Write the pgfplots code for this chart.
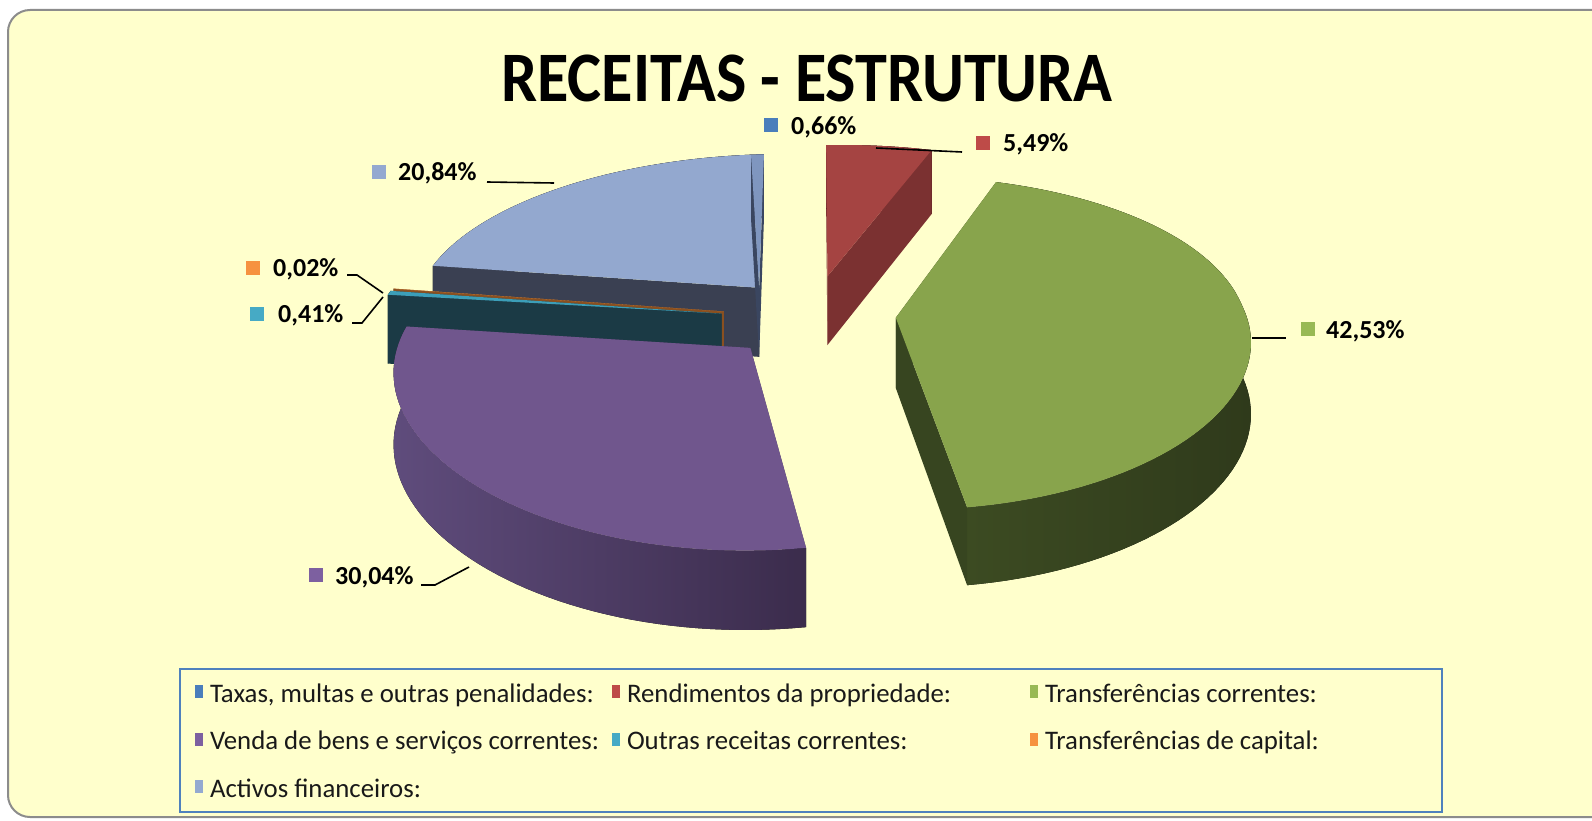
\documentclass[border=0pt]{standalone}
\usepackage{fontspec}
\setmainfont{Carlito}
\newfontfamily\titlefont[FakeStretch=0.905]{Carlito}
\usepackage{pgfplots}
\usepackage{pgfplotstable}
\pgfplotsset{compat=1.18}

\definecolor{bg}{HTML}{FFFFCC}
\definecolor{frame}{HTML}{8C8C8C}
\definecolor{legframe}{HTML}{4F81BD}
% legend / label key colours
\definecolor{k0}{HTML}{4A7EBB}
\definecolor{k1}{HTML}{BE4B48}
\definecolor{k2}{HTML}{98B954}
\definecolor{k3}{HTML}{7D60A0}
\definecolor{k4}{HTML}{46AAC5}
\definecolor{k5}{HTML}{F69240}
\definecolor{k6}{HTML}{94A9D0}
% top faces
\definecolor{top0}{HTML}{7F96BF}
\definecolor{top1}{HTML}{A54442}
\definecolor{top2}{HTML}{88A44C}
\definecolor{top3}{HTML}{70568D}
\definecolor{top4}{HTML}{3C9EB8}
\definecolor{top5}{HTML}{E08A3C}
\definecolor{top6}{HTML}{93A8CF}
% radial walls
\definecolor{wal0}{HTML}{3A4660}
\definecolor{wal1}{HTML}{7B3131}
\definecolor{wal2}{HTML}{374520}
\definecolor{wal3}{HTML}{4A3B60}
\definecolor{wal4}{HTML}{1B3A45}
\definecolor{wal5}{HTML}{8A5020}
\definecolor{wal6}{HTML}{3A4052}
% outer walls (left / right shade)
\definecolor{bandL0}{HTML}{3A4660}\definecolor{bandR0}{HTML}{2E3850}
\definecolor{bandL1}{HTML}{7A3232}\definecolor{bandR1}{HTML}{5E2525}
\definecolor{bandL2}{HTML}{3C4B22}\definecolor{bandR2}{HTML}{2F3A1B}
\definecolor{bandL3}{HTML}{5F4C7C}\definecolor{bandR3}{HTML}{3B2C4C}
\definecolor{bandL4}{HTML}{1F4452}\definecolor{bandR4}{HTML}{173440}
\definecolor{bandL5}{HTML}{8A5020}\definecolor{bandR5}{HTML}{6E3F18}
\definecolor{bandL6}{HTML}{3A4052}\definecolor{bandR6}{HTML}{2E3342}

% shares (%) and explosion offsets of each slice
\pgfplotstableread{
name value dx dz
Taxas 0.66 -0.09 -0.15
Rendimentos 5.49 0.11 -0.215
TransfCorrentes 42.53 0.30 0.058
Venda 30.04 -0.12 0.22
Outras 0.41 -0.197 0.009
TransfCapital 0.02 -0.19 -0.004
Activos 20.84 -0.09 -0.15
}\piedata

% projection parameters (axis units = pixels)
\def\pcx{790}\def\pcy{310.5}\def\pR{348}\def\pA{160}\def\pb{0.15}\def\pbx{0.10}\def\pD{70}\def\prho{2}

\newcommand\proj[4]{%
  \pgfmathsetmacro\pw{1/(1-\pb*(#2))}%
  \pgfmathsetmacro\pwx{1/(1-\pbx*(#2))}%
  \pgfmathsetmacro\pX{#1}%
  \pgfmathsetmacro\pZ{#2}%
  \pgfmathsetmacro\px{\pcx+\pR*\pX*\pwx+14*max(\pZ,0)}%
  \pgfmathsetmacro\py{\pcy+\pA*\pZ*\pw+(#3)*\pD*(0.4+0.6*\pw)+3*\pX*\pX-8*\pX}%
  \coordinate (#4) at (axis cs:\px,\py);%
}

\newcommand\drawslice[1]{%
  \edef\sa{\csname ta#1\endcsname}%
  \edef\sb{\csname tb#1\endcsname}%
  \edef\ex{\csname dx#1\endcsname}%
  \edef\ez{\csname dz#1\endcsname}%
  \proj{\ex}{\ez}{0}{at}%
  \proj{\ex}{\ez}{1}{ab}%
  \pgfmathtruncatemacro\N{max(1,ceil(((\sb)-(\sa))/2))}%
  \foreach \k in {0,...,\N}{%
    \pgfmathsetmacro\th{(\sa)+((\sb)-(\sa))*\k/\N}%
    \proj{\ex+cos(\th)}{\ez-sin(\th)}{0}{t\k}%
    \proj{\ex+cos(\th)}{\ez-sin(\th)}{1}{b\k}%
  }%
  \pgfmathtruncatemacro\sfront{cos(\sa)>0}%
  \pgfmathtruncatemacro\efront{cos(\sb)<0}%
  \ifnum\sfront=0 \fill[wal#1] (at) -- (t0) -- (b0) -- (ab) -- cycle;\fi
  \ifnum\efront=0 \fill[wal#1] (at) -- (t\N) -- (b\N) -- (ab) -- cycle;\fi
  \fill[left color=bandL#1, right color=bandR#1] (t0) \foreach \k in {1,...,\N}{-- (t\k)} \foreach \k in {\N,...,0}{-- (b\k)} -- cycle;
  \ifnum\sfront=1 \fill[wal#1] (at) -- (t0) -- (b0) -- (ab) -- cycle;\fi
  \ifnum\efront=1 \fill[wal#1] (at) -- (t\N) -- (b\N) -- (ab) -- cycle;\fi
  \fill[top#1] (at) -- (t0) \foreach \k in {1,...,\N}{-- (t\k)} -- cycle;
}

\begin{document}
\begin{tikzpicture}
% angles of each slice (clockwise from 12 o'clock)
\def\cum{0}
\pgfplotsforeachungrouped \i in {0,...,6}{%
  \pgfplotstablegetelem{\i}{value}\of\piedata
  \let\v\pgfplotsretval
  \pgfmathsetmacro\tmpa{90+\prho-3.6*(\cum+\v)}%
  \pgfmathsetmacro\tmpb{90+\prho-3.6*\cum}%
  \expandafter\let\csname ta\i\endcsname\tmpa
  \expandafter\let\csname tb\i\endcsname\tmpb
  \pgfmathsetmacro\cum{\cum+\v}%
  \pgfplotstablegetelem{\i}{dx}\of\piedata
  \expandafter\let\csname dx\i\endcsname\pgfplotsretval
  \pgfplotstablegetelem{\i}{dz}\of\piedata
  \expandafter\let\csname dz\i\endcsname\pgfplotsretval
}
\begin{axis}[
  width=1592pt, height=821pt, scale only axis,
  xmin=0, xmax=1592, ymin=0, ymax=821, y dir=reverse,
  hide axis,
  legend columns=3,
  legend cell align=left,
  legend style={at={(axis cs:195,680)}, anchor=north west, draw=none, fill=none,
    inner sep=0pt, outer sep=0pt, row sep=24pt, column sep=0pt,
    font=\fontsize{26.8}{30}\selectfont, text=black!90,
    nodes={inner sep=0pt}},
  legend image code/.code={\fill[#1] (0pt,-6.5pt) rectangle (8pt,6.5pt);},
]
\pgfplotsextra{
  \fill[white] (axis cs:0,0) rectangle (axis cs:1592,821);
  \filldraw[fill=bg, draw=frame, line width=2pt, rounded corners=22pt]
    (axis cs:1592,10) -- (axis cs:8,10) -- (axis cs:8,817) -- (axis cs:1592,817);
  \pgfplotsforeachungrouped \s in {6,0,1,5,4,2,3}{\expandafter\drawslice\expandafter{\s}}
  % leader lines
  \draw[line width=1.6pt] (axis cs:876,148) -- (axis cs:962,152);
  \draw[line width=1.6pt] (axis cs:1252,338) -- (axis cs:1286,338);
  \draw[line width=1.6pt] (axis cs:487,182) -- (axis cs:554,183);
  \draw[line width=1.6pt] (axis cs:421,585) -- (axis cs:435,585) -- (axis cs:469,567);
  \draw[line width=1.6pt] (axis cs:347,275) -- (axis cs:357,275) -- (axis cs:383,293);
  \draw[line width=1.6pt] (axis cs:352,323) -- (axis cs:362,323) -- (axis cs:383,297);
  % label keys
  \fill[k0] (axis cs:764,118) rectangle (axis cs:778,132);
  \fill[k1] (axis cs:976,136) rectangle (axis cs:990,150);
  \fill[k2] (axis cs:1301,322) rectangle (axis cs:1315,336);
  \fill[k3] (axis cs:309,568) rectangle (axis cs:323,582);
  \fill[k6] (axis cs:372,165) rectangle (axis cs:386,179);
  \fill[k5] (axis cs:246,261) rectangle (axis cs:260,275);
  \fill[k4] (axis cs:250,307) rectangle (axis cs:264,321);
  % labels
  \begin{scope}[every node/.style={anchor=base west, inner sep=0pt, font=\bfseries\fontsize{26}{30}\selectfont}]
    \node at (axis cs:791,134.5) {0,66\%};
    \node at (axis cs:1003,152) {5,49\%};
    \node at (axis cs:1326,338) {42,53\%};
    \node at (axis cs:335,584) {30,04\%};
    \node at (axis cs:398,181) {20,84\%};
    \node at (axis cs:273,276) {0,02\%};
    \node at (axis cs:278,322) {0,41\%};
  \end{scope}
  % title
  \node[anchor=base, inner sep=0pt, font=\titlefont\bfseries\fontsize{71}{80}\selectfont] at (axis cs:807,101.7) {\raisebox{0pt}[\height][0pt]{RECEITAS - ESTRUTURA}};
  % legend frame
  \draw[legframe, line width=2pt] (axis cs:180,669) rectangle (axis cs:1442,812);
}
\addlegendimage{fill=k0, draw=none}
\addlegendentry{\makebox[409pt][l]{\rule[-8pt]{0pt}{30pt}\hspace*{7pt}Taxas, multas e outras penalidades:}}
\addlegendimage{fill=k1, draw=none}
\addlegendentry{\makebox[410pt][l]{\rule[-8pt]{0pt}{30pt}\hspace*{7pt}Rendimentos da propriedade:}}
\addlegendimage{fill=k2, draw=none}
\addlegendentry{\makebox[390pt][l]{\rule[-8pt]{0pt}{30pt}\hspace*{7pt}Transferências correntes:}}
\addlegendimage{fill=k3, draw=none}
\addlegendentry{\makebox[409pt][l]{\rule[-8pt]{0pt}{30pt}\hspace*{7pt}Venda de bens e serviços correntes:}}
\addlegendimage{fill=k4, draw=none}
\addlegendentry{\makebox[410pt][l]{\rule[-8pt]{0pt}{30pt}\hspace*{7pt}Outras receitas correntes:}}
\addlegendimage{fill=k5, draw=none}
\addlegendentry{\makebox[390pt][l]{\rule[-8pt]{0pt}{30pt}\hspace*{7pt}Transferências de capital:}}
\addlegendimage{fill=k6, draw=none}
\addlegendentry{\makebox[409pt][l]{\rule[-8pt]{0pt}{30pt}\hspace*{7pt}Activos financeiros:}}
\end{axis}
\end{tikzpicture}
\end{document}
